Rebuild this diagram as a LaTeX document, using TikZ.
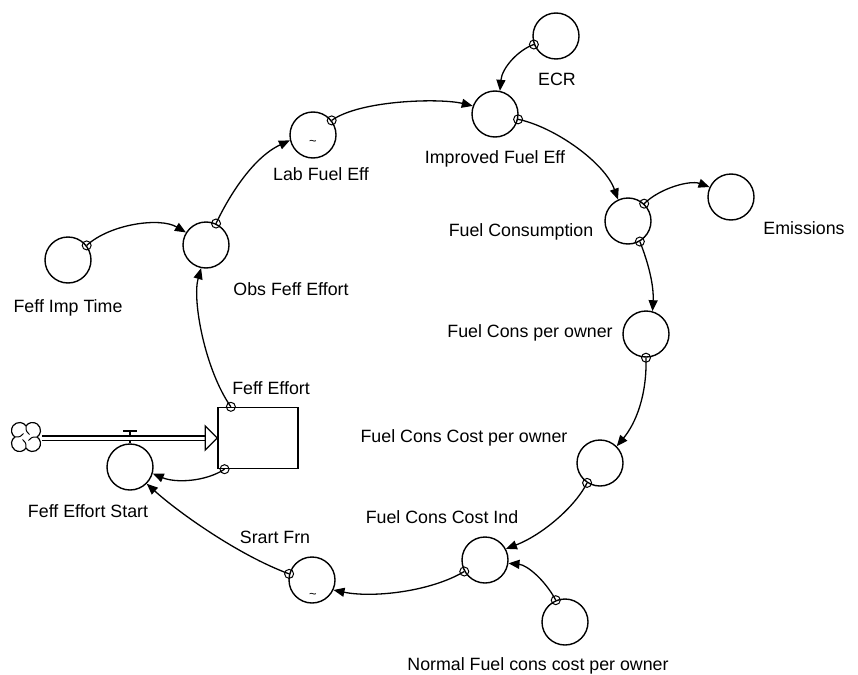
\documentclass[tikz,border=0pt]{standalone}
\usepackage{fontspec}
\setmainfont{Liberation Sans}
\usetikzlibrary{arrows.meta}
\begin{document}
\begin{tikzpicture}[x=1pt,y=-1pt,
  aux/.style={circle,draw,line width=1.4pt,minimum size=46pt,inner sep=0pt},
  lvl/.style={draw,line width=1.4pt,minimum width=80pt,minimum height=61pt,inner sep=0pt},
  lbl/.style={anchor=base,font=\fontsize{17.8}{20}\selectfont,inner sep=0pt},
  link/.style={line width=1.3pt,-{Triangle[length=11pt,width=9pt]}},
  tail/.style={line width=1pt},
  tilde/.style={inner sep=0pt,font=\fontsize{13}{13}\selectfont},
]
\useasboundingbox (0,0) rectangle (858,674);

% variables
\node[aux] (ecr) at (556,36) {};
\node[aux] (imp) at (495,114) {};
\node[aux] (lab) at (313,135) {};
\node[aux] (obs) at (206,245) {};
\node[aux] (imptime) at (68,260) {};
\node[aux] (cons) at (628,221) {};
\node[aux] (emis) at (731,197) {};
\node[aux] (perowner) at (646,334) {};
\node[aux] (costper) at (600,463) {};
\node[aux] (costind) at (485,560) {};
\node[aux] (normal) at (565,622) {};
\node[aux] (frn) at (312,580) {};
\node[aux] (start) at (130,467) {};
\node[lvl] (stock) at (258,438) {};

\node[tilde] (tlab) at (313,143) {\textasciitilde};
\node[tilde] (tfrn) at (313,596) {\textasciitilde};

% labels
\node[lbl] (lecr) at (557,85.4) {ECR};
\node[lbl] (limp) at (495,163.4) {Improved Fuel Eff};
\node[lbl] (llab) at (321,180.4) {Lab Fuel Eff};
\node[lbl] (lobs) at (291,295.4) {Obs Feff Effort};
\node[lbl] (limptime) at (68,312.4) {Feff Imp Time};
\node[lbl] (lcons) at (521,236.4) {Fuel Consumption};
\node[lbl] (lemis) at (804,234.4) {Emissions};
\node[lbl] (lperowner) at (530,337.4) {Fuel Cons per owner};
\node[lbl] (lcostper) at (464,442.4) {Fuel Cons Cost per owner};
\node[lbl] (lcostind) at (442,523.4) {Fuel Cons Cost Ind};
\node[lbl] (lnormal) at (538,670.4) {Normal Fuel cons cost per owner};
\node[lbl] (lfrn) at (275,543.4) {Srart Frn};
\node[lbl] (lstart) at (88,517.4) {Feff Effort Start};
\node[lbl] (lstock) at (271,394.4) {Feff Effort};

% cloud
\begin{scope}[shift={(26,437)},yscale=-1,line width=1.2pt]
  \draw (0,11.16) arc[start angle=144.4, end angle=-54.4, radius=8]
        arc[start angle=54.4, end angle=-144.4, radius=8]
        arc[start angle=-35.6, end angle=-234.4, radius=8]
        arc[start angle=234.4, end angle=35.6, radius=8] -- cycle;
  \foreach \r in {0,90,180,270}
    \draw[rotate=\r,line width=1pt] (0,11.16) .. controls (0,6) .. (3.5,2.5);
\end{scope}
\coordinate (cloudE) at (42,438);

% valve
\draw[line width=1.3pt] (123,431) -- (137,431);
\draw[line width=1.3pt] (130,431) -- (start.north);

% flow pipe
\draw[line width=1.2pt,double distance=3pt] (cloudE) -- ([xshift=-12pt]stock.west);
\draw[line width=1.3pt,fill=white] ([xshift=-12pt,yshift=-12pt]stock.west) -- (stock.west) -- ([xshift=-12pt,yshift=12pt]stock.west) -- cycle;

% links
\draw[link] (ecr.201) .. controls (518,50) and (502,68) .. (imp.78);
\draw[link] (lab.38) .. controls (360,100) and (440,98) .. (imp.160);
\draw[link] (imp.-13) .. controls (555,127) and (605,163) .. (cons.115);
\draw[link] (cons.47) .. controls (660,188) and (690,180) .. (emis.155);
\draw[link] (cons.-60) .. controls (648,262) and (654,285) .. (perowner.74);
\draw[link] (perowner.-90) .. controls (647,395) and (636,423) .. (costper.45);
\draw[link] (costper.-123) .. controls (575,507) and (542,535) .. (costind.28);
\draw[link] (normal.113) .. controls (545,580) and (527,565) .. (costind.-8);
\draw[link] (costind.-151) .. controls (430,592) and (372,598) .. (frn.-25);
\draw[link] (frn.165) .. controls (238,555) and (178,512) .. (start.-45);
\draw[link] (stock.223) .. controls (205,482) and (175,483) .. (start.-16);
\draw[link] (stock.131) .. controls (205,370) and (192,300) .. (obs.258);
\draw[link] (imptime.38) .. controls (110,224) and (160,217) .. (obs.148);
\draw[link] (obs.65) .. controls (228,198) and (252,158) .. (lab.193);

% tails
\foreach \p in {ecr.201,lab.38,imp.-13,cons.47,cons.-60,perowner.-90,costper.-123,normal.113,costind.-151,frn.165,stock.223,stock.131,imptime.38,obs.65}
  \draw[tail] (\p) circle[radius=4.5pt];
\end{tikzpicture}
\end{document}
